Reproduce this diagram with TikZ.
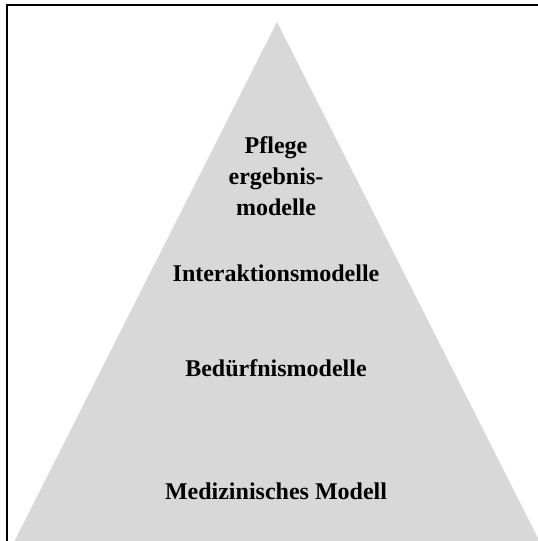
\documentclass[tikz,border=0pt]{standalone}
\usepackage{fontspec}
\setmainfont{Liberation Serif}
\usepackage{xcolor}
\usetikzlibrary{positioning}
\definecolor{pyrgray}{RGB}{216,216,216}

\begin{document}
\begin{tikzpicture}[x=1pt, y=-1pt,
        lvl/.style={anchor=base, inner sep=0pt, font=\bfseries\fontsize{24}{31}\selectfont}]
    \clip (0, 0) rectangle (538, 541);

    % pyramid
    \coordinate (top) at (277, 22);
    \coordinate (bl) at (12, 546);
    \coordinate (br) at (542, 546);
    \fill[pyrgray] (top) -- (bl) -- (br) -- cycle;

    % frame
    \coordinate (fl) at (7, 548);
    \coordinate (ftl) at (7, 5);
    \coordinate (fr) at (545, 5);
    \draw[line width=2pt] (fl) -- (ftl) -- (fr);

    \node[lvl] (pe1) at (276, 153) {Pflege};
    \node[lvl] (pe2) at (276, 184) {ergebnis-};
    \node[lvl] (pe3) at (276, 215) {modelle};
    \node[lvl] (im) at (276, 281) {Interaktionsmodelle};
    \node[lvl] (bm) at (276, 376) {Bedürfnismodelle};
    \node[lvl] (mm) at (276, 499) {Medizinisches Modell};
\end{tikzpicture}
\end{document}
